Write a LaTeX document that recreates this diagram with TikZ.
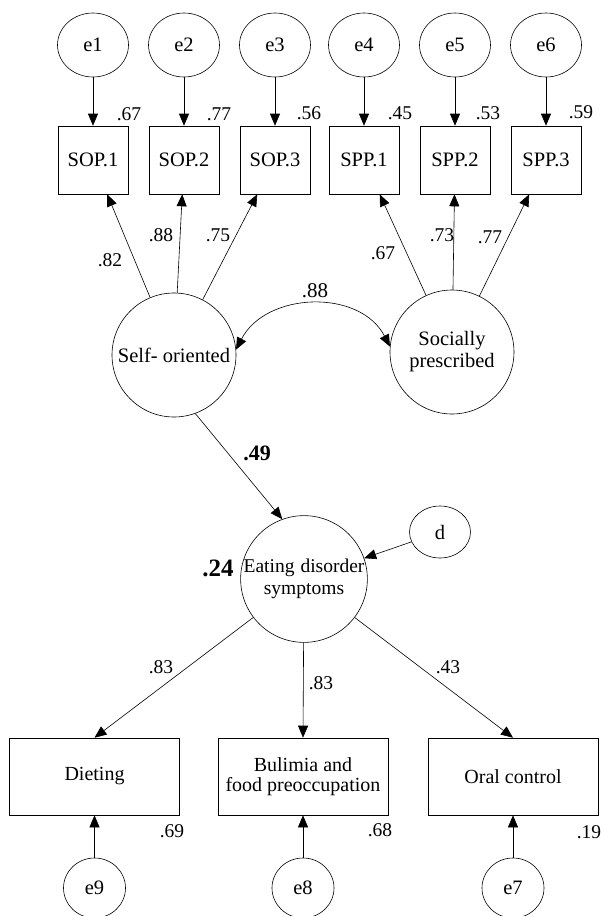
\documentclass[tikz,border=0pt]{standalone}
\usepackage{fontspec}
\setmainfont{Liberation Serif}
\usetikzlibrary{arrows.meta,shapes.geometric}
\begin{document}
\begin{tikzpicture}[x=1pt,y=-1pt,
  every node/.style={font=\fontsize{20.5}{22}\selectfont},
  err/.style={draw,ellipse,line width=0.6pt,minimum width=71pt,minimum height=64pt,inner sep=0pt},
  errb/.style={draw,ellipse,line width=0.6pt,minimum width=62pt,minimum height=60pt,inner sep=0pt},
  ind/.style={draw,rectangle,line width=0.6pt,minimum width=70pt,minimum height=68pt,inner sep=0pt},
  indb/.style={draw,rectangle,line width=0.6pt,minimum width=170pt,minimum height=77pt,inner sep=0pt,align=center,font=\fontsize{20}{20}\selectfont},
  lat/.style={draw,circle,line width=0.6pt,minimum size=124pt,inner sep=0pt,align=center},
  val/.style={inner sep=0pt,font=\fontsize{19.5}{21}\selectfont},
  bval/.style={inner sep=0pt,font=\fontsize{22}{24}\bfseries\selectfont},
  arr/.style={-{Triangle[length=12pt,width=10pt]},line width=0.6pt},
  darr/.style={{Triangle[length=12pt,width=10pt]}-{Triangle[length=12pt,width=10pt]},line width=0.6pt}]
\useasboundingbox (0,0) rectangle (603,916);
% error terms top
\node[err] (e1) at (93,45) {e1};
\node[err] (e2) at (184,45) {e2};
\node[err] (e3) at (275,45) {e3};
\node[err] (e4) at (364,45) {e4};
\node[err] (e5) at (455,45) {e5};
\node[err] (e6) at (546,45) {e6};
% indicators top
\node[ind] (s1) at (93,160) {SOP.1};
\node[ind] (s2) at (184,160) {SOP.2};
\node[ind] (s3) at (275,160) {SOP.3};
\node[ind] (p1) at (364,160) {SPP.1};
\node[ind] (p2) at (455,160) {SPP.2};
\node[ind] (p3) at (546,160) {SPP.3};
\foreach \a/\b in {e1/s1,e2/s2,e3/s3,e4/p1,e5/p2,e6/p3}
  \draw[arr] (\a) -- (\b);
% R2 top
\node[val] (r1) at (129,114) {.67};
\node[val] (r2) at (219,114) {.77};
\node[val] (r3) at (309,113) {.56};
\node[val] (r4) at (400,113) {.45};
\node[val] (r5) at (488,113) {.53};
\node[val] (r6) at (581,112) {.59};
% latent
\node[lat] (so) at (174,355) {Self- oriented};
\node[lat] (sp) at (452,352) {Socially\\prescribed};
\draw[arr] (so) -- (s1);
\draw[arr] (so) -- (s2);
\draw[arr] (so) -- (s3);
\draw[arr] (sp) -- (p1);
\draw[arr] (sp) -- (p2);
\draw[arr] (sp) -- (p3);
\node[val] (l1) at (110,260) {.82};
\node[val] (l2) at (161,235) {.88};
\node[val] (l3) at (218,235) {.75};
\node[val] (l4) at (383,253) {.67};
\node[val] (l5) at (442,235) {.73};
\node[val] (l6) at (490,237) {.77};
\draw[darr] (so.5) .. controls +(30,-58) and +(-30,-58) .. (sp.175);
\node[val,font=\fontsize{21}{22}\selectfont] (cv) at (315,291) {.88};
% eating
\node[lat,font=\fontsize{19.5}{22}\selectfont] (ed) at (304,579) {Eating\hspace{6pt}disorder\\symptoms};
\node[draw,ellipse,line width=0.6pt,minimum width=61pt,minimum height=52pt,inner sep=0pt] (d) at (440,532) {d};
\draw[arr] (so.-70) -- (ed.110);
\draw[arr] (d) -- (ed);
\node[bval] (b49) at (257,453) {.49};
\node[bval,font=\fontsize{25}{26}\bfseries\selectfont] (b24) at (218,568) {.24};
% bottom indicators
\node[indb] (di) at (94.5,776.5) {Dieting};
\node[indb] (bu) at (303,776.5) {Bulimia and\\food preoccupation};
\node[indb] (oc) at (513,776.5) {Oral control};
\draw[arr] (ed) -- (di.north);
\draw[arr] (ed) -- (bu.north);
\draw[arr] (ed) -- (oc.north);
\node[val] (m1) at (161,667) {.83};
\node[val] (m2) at (321,683) {.83};
\node[val] (m3) at (448,667) {.43};
% bottom errors
\node[errb] (e9) at (94.5,888) {e9};
\node[errb] (e8) at (303,888) {e8};
\node[errb] (e7) at (513,888) {e7};
\draw[arr] (e9) -- (di);
\draw[arr] (e8) -- (bu);
\draw[arr] (e7) -- (oc);
\node[val] (q1) at (172,831) {.69};
\node[val] (q2) at (380,830) {.68};
\node[val] (q3) at (589,832) {.19};
\end{tikzpicture}
\end{document}
